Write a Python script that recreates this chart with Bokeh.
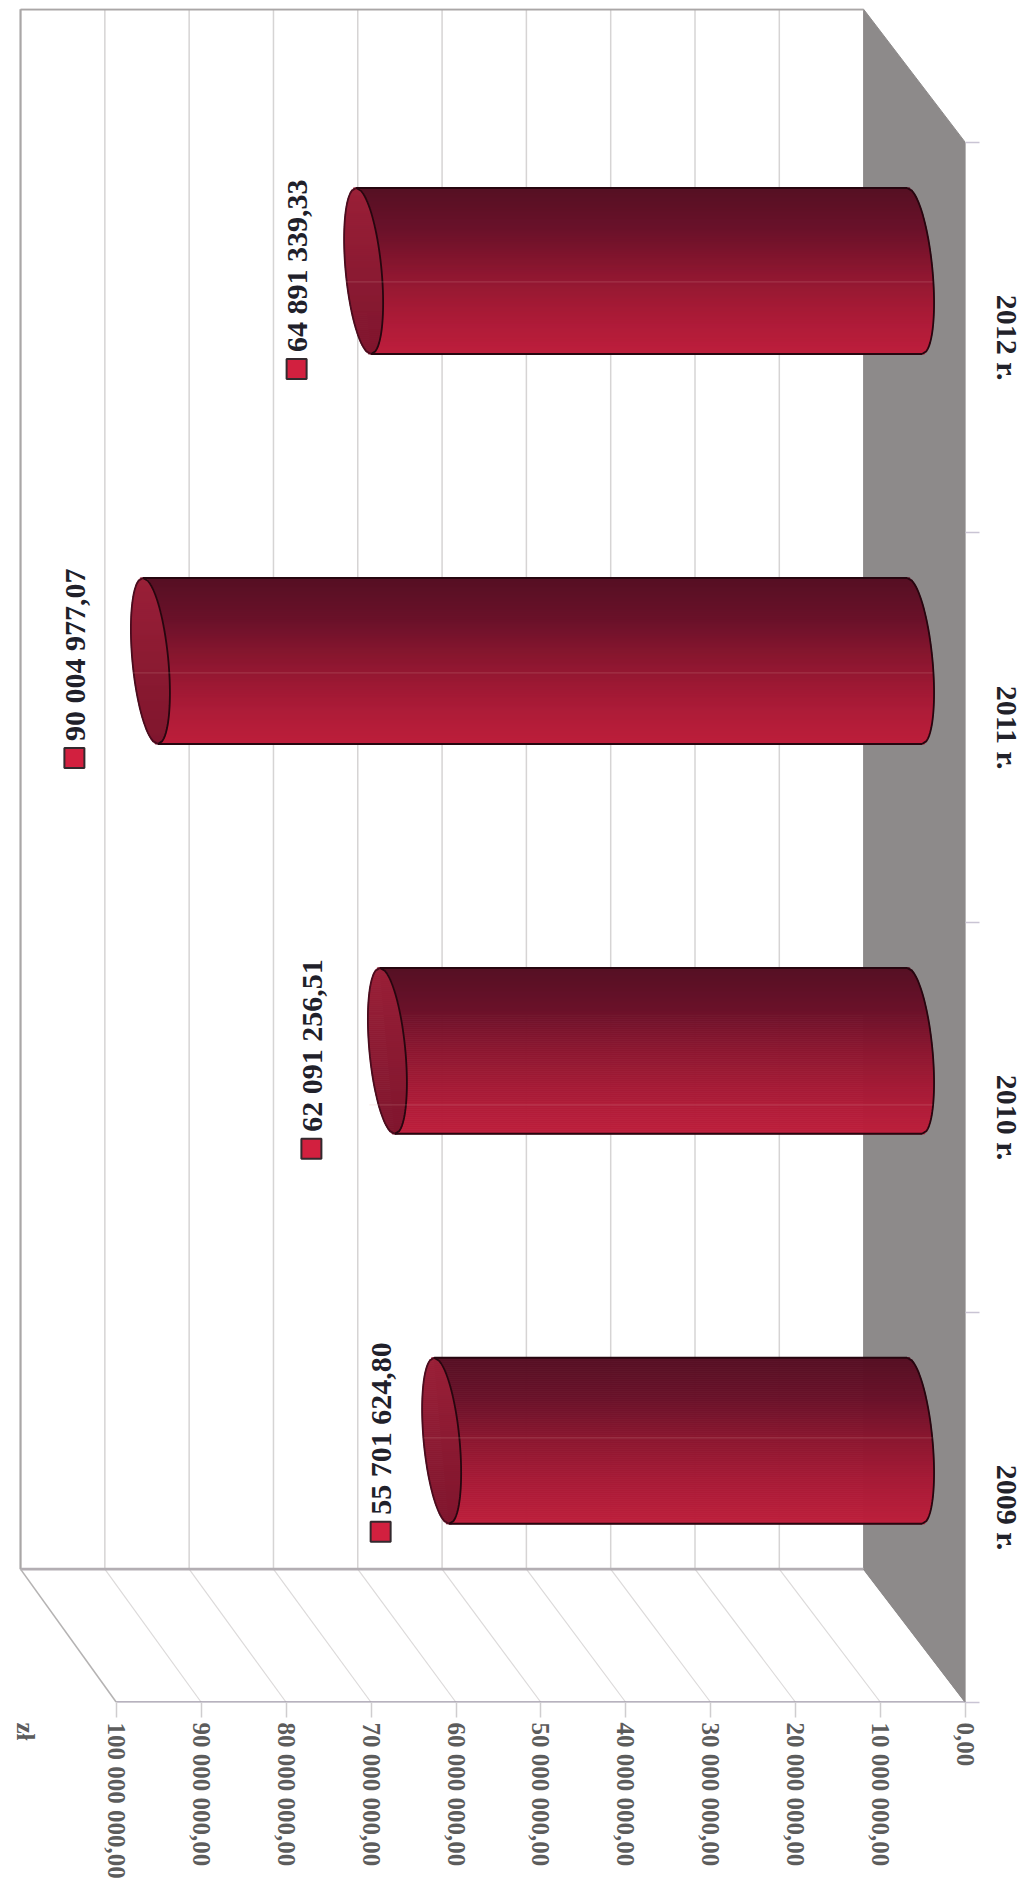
import math
from bokeh.embed import file_html
from bokeh.resources import INLINE
from bokeh.plotting import figure
from bokeh.models import Range1d, LinearAxis, FixedTicker
from bokeh.core.properties import value

# ---------- data ----------
categories = ["2009 r.", "2010 r.", "2011 r.", "2012 r."]
bar_values = [55701624.80, 62091256.51, 90004977.07, 64891339.33]
bar_labels = ["55 701 624,80", "62 091 256,51", "90 004 977,07", "64 891 339,33"]
value_ticks = [0, 10, 20, 30, 40, 50, 60, 70, 80, 90, 100]
value_tick_labels = ["0,00", "10 000 000,00", "20 000 000,00", "30 000 000,00", "40 000 000,00",
                     "50 000 000,00", "60 000 000,00", "70 000 000,00", "80 000 000,00",
                     "90 000 000,00", "100 000 000,00"]
unit_label = "zł"

# ---------- oblique 3D geometry (in axis units) ----------
PX_V = 8.49      # px per million
PX_C = 390.0     # px per category
DV, DC = 12.0, 0.342            # depth of the box
BACK = 0.993                    # slight perspective of the back wall
R_C = 83 / PX_C                 # cylinder radius along the category direction
S_V = 7.5 / PX_V                # skew of the end ellipses
A_V = 18 / PX_V                 # half width of the end ellipses
LABEL_GAP = [61 / PX_V, 76 / PX_V, 76 / PX_V, 67 / PX_V]     # cap centre -> data label
SQUARE_GAP = [91 / PX_C, 98 / PX_C, 97 / PX_C, 98 / PX_C]    # cylinder centre -> label key
STREAK_SHIFT = [-3 / PX_C, 54 / PX_C, 12 / PX_C, 11 / PX_C]
UNIT_POS = 110.7                # where the unit caption sits along the value axis
N = 83

def mix(c1, c2, f):
    return "#%02x%02x%02x" % tuple(round(a + (b - a) * f) for a, b in zip(c1, c2))

def ramp(stops, f):
    f = f * (len(stops) - 1)
    i = min(int(f), len(stops) - 2)
    return mix(stops[i], stops[i + 1], f - i)

BODY = [(0x56, 0x10, 0x24), (0x6a, 0x12, 0x2a), (0x8c, 0x17, 0x30), (0xa8, 0x1b, 0x37), (0xbe, 0x1f, 0x3c)]
CAP = [(0x9a, 0x20, 0x38), (0x8c, 0x1b, 0x33), (0x80, 0x16, 0x2e)]

p = figure(frame_width=956, frame_height=1694,
           x_range=Range1d(112.6, 0), y_range=Range1d(0, 4.344),
           x_axis_type=None, y_axis_type=None,
           output_backend="svg", toolbar_location=None, min_border=0,
           min_border_left=9, min_border_top=8,
           outline_line_color=None, background_fill_color="white", border_fill_color="white")

# floor
p.patch([DV, 0, 0, DV], [DC, 0, 4, 4 + DC], fill_color="#8d8a8a", line_color="#8d8a8a", line_width=1)

# grid lines: back wall and side wall
for t in value_ticks[1:-1]:
    bx = DV + t * BACK
    p.line([bx, bx], [DC, 4 + DC], line_color="#d6d4d4", line_width=1.5)
    p.line([t, bx], [0, DC], line_color="#dcdada", line_width=1.2)

# box edges
edge = "#a9a6a6"
top_v = DV + 100 * BACK
p.line([top_v, top_v], [DC, 4 + DC], line_color=edge, line_width=2.2)
p.line([DV, top_v], [4 + DC, 4 + DC], line_color=edge, line_width=2.2)
p.line([DV, top_v], [DC, DC], line_color="#b3aeb3", line_width=2.6)
p.line([100, top_v], [0, DC], line_color="#b5b3b3", line_width=1.6)
p.line([0, DV], [0, DC], line_color="#8d8a8a", line_width=1.2)
p.line([0, 100], [0, 0], line_color="#9f99a8", line_width=2.6)

# cylinders
for i, raw in enumerate(bar_values):
    v = raw / 1e6
    cap_c = v + DV / 2
    base_c = DV / 2
    c = i + 0.5 + DC / 2
    ts = [-1 + 2 * k / N for k in range(N + 1)]
    lefts, rights, tops, bottoms, cols = [], [], [], [], []
    cl, cr, ccols = [], [], []
    for k in range(N):
        t = (ts[k] + ts[k + 1]) / 2
        w = A_V * math.sqrt(max(0, 1 - t * t))
        lefts.append(base_c - S_V * t - w)
        rights.append(cap_c - S_V * t)
        tops.append(c - ts[k] * R_C)
        bottoms.append(c - ts[k + 1] * R_C)
        cols.append(ramp(BODY, (t + 1) / 2))
        cl.append(cap_c - S_V * t - w)
        cr.append(cap_c - S_V * t + w)
        ccols.append(ramp(CAP, (t + 1) / 2))
    p.quad(left=lefts, right=rights, top=tops, bottom=bottoms, fill_color=cols, line_color=cols, line_width=1)
    p.quad(left=cl, right=cr, top=tops, bottom=bottoms, fill_color=ccols, line_color=ccols, line_width=1)

    # outlines
    th = [-1 + 2 * k / 60 for k in range(61)]
    dark = "#26060f"
    base_x = [base_c - S_V * t - A_V * math.sqrt(max(0, 1 - t * t)) for t in th]
    cap_x1 = [cap_c - S_V * t - A_V * math.sqrt(max(0, 1 - t * t)) for t in th]
    cap_x2 = [cap_c - S_V * t + A_V * math.sqrt(max(0, 1 - t * t)) for t in th]
    ys = [c - t * R_C for t in th]
    p.line(base_x, ys, line_color=dark, line_width=1.8)
    p.line(cap_x1, ys, line_color=dark, line_width=1.8)
    p.line(cap_x2, ys, line_color="#4a0c1e", line_width=1.8)
    p.line([cap_c + S_V, base_c + S_V], [c + R_C, c + R_C], line_color=dark, line_width=2)
    p.line([cap_c - S_V, base_c - S_V], [c - R_C, c - R_C], line_color=dark, line_width=2)

    # faint scan streak across the cylinder
    st = c - STREAK_SHIFT[i]
    p.line([base_c - A_V, cap_c + A_V], [st, st], line_color="#e0a8a0", line_alpha=0.2, line_width=1.2)

    # data label with its key
    lx = cap_c + LABEL_GAP[i]
    key_y = c - SQUARE_GAP[i]
    p.scatter([lx], [key_y], marker="square", size=20, fill_color="#d2203f",
              line_color="#33292e", line_width=2)
    p.text([lx], [key_y + 17 / PX_C], text=[bar_labels[i]], angle=math.pi / 2,
           text_font=value("Liberation Serif"), text_font_style="bold", text_font_size="30px",
           text_color="#20202a", text_align="left", text_baseline="middle")

# value axis (front plane); tick marks are the minor ticks so the unit caption carries none
overrides = {t: s for t, s in zip(value_ticks, value_tick_labels)}
overrides[UNIT_POS] = unit_label
ax = LinearAxis(ticker=FixedTicker(ticks=value_ticks + [UNIT_POS], minor_ticks=value_ticks),
                major_label_overrides=overrides,
                major_label_orientation="vertical",
                major_label_text_font="Liberation Serif", major_label_text_font_style="bold",
                major_label_text_font_size="25px",
                major_label_text_color="#5c5c5c", major_label_standoff=5,
                major_tick_in=0, major_tick_out=0, minor_tick_in=0, minor_tick_out=15,
                minor_tick_line_color="#cfcdcf", minor_tick_line_width=1.5,
                axis_line_color=None)
p.add_layout(ax, "below")

# category axis (front plane)
ay = LinearAxis(ticker=FixedTicker(ticks=[i + 0.5 for i in range(len(categories))],
                                   minor_ticks=list(range(len(categories) + 1))),
                major_label_overrides={i + 0.5: s for i, s in enumerate(categories)},
                major_label_orientation="vertical",
                major_label_text_font="Liberation Serif", major_label_text_font_style="bold",
                major_label_text_font_size="30px", major_label_text_color="#22222a",
                major_label_standoff=11,
                major_tick_in=0, major_tick_out=0, minor_tick_in=0, minor_tick_out=14,
                minor_tick_line_color="#c9c4d4", minor_tick_line_width=1.5,
                axis_line_color=None)
p.add_layout(ay, "right")

open("out.html", "w").write(file_html(p, INLINE))
